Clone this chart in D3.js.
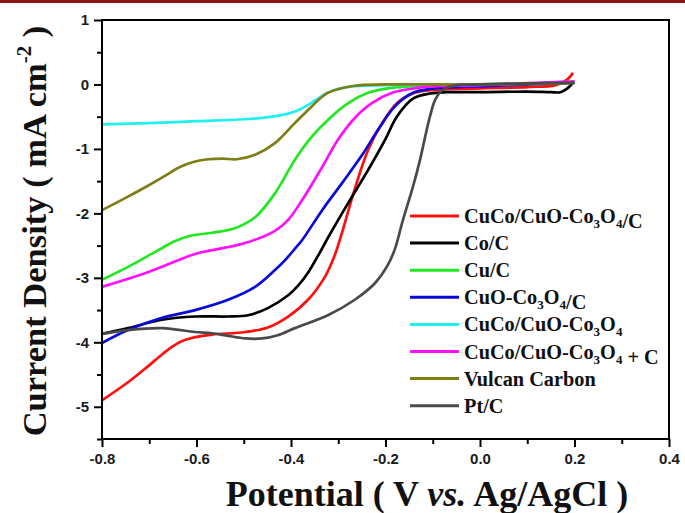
<!DOCTYPE html>
<html><head><meta charset="utf-8">
<script src="https://cdn.jsdelivr.net/npm/d3@7"></script>
<style>body{margin:0;background:#fff}svg{display:block}</style>
</head><body>
<svg id="c" width="685" height="513"></svg>
<script>
// ---- data ----
const redV = [-0.8,-0.745,-0.709,-0.673,-0.652,-0.63,-0.603,-0.567,-0.497,-0.449,-0.406,-0.364,-0.328,-0.307,-0.292,-0.265,-0.237,-0.207,-0.176,-0.142,-0.106,-0.05,0.0,0.1,0.16,0.185,0.197];
const redJ = [-4.9,-4.62,-4.41,-4.19,-4.07,-3.98,-3.92,-3.88,-3.84,-3.77,-3.6,-3.34,-2.98,-2.64,-2.3,-1.62,-1.02,-0.6,-0.29,-0.14,-0.09,-0.07,-0.06,-0.04,-0.01,0.08,0.18];
const blackV = [-0.8,-0.745,-0.673,-0.603,-0.533,-0.491,-0.449,-0.406,-0.385,-0.364,-0.343,-0.322,-0.3,-0.279,-0.237,-0.201,-0.176,-0.142,-0.106,-0.07,0.0,0.1,0.15,0.17,0.185,0.197];
const blackJ = [-3.87,-3.78,-3.65,-3.6,-3.6,-3.58,-3.47,-3.27,-3.12,-2.92,-2.66,-2.38,-2.1,-1.84,-1.33,-0.86,-0.5,-0.22,-0.14,-0.12,-0.12,-0.11,-0.12,-0.12,-0.06,0.03];
const greenV = [-0.8,-0.745,-0.681,-0.645,-0.615,-0.567,-0.519,-0.476,-0.434,-0.392,-0.356,-0.322,-0.279,-0.237,-0.195,-0.15,-0.1,0.0,0.2];
const greenJ = [-3.03,-2.83,-2.57,-2.43,-2.35,-2.3,-2.23,-2.06,-1.69,-1.17,-0.81,-0.55,-0.29,-0.13,-0.06,-0.03,-0.015,0.0,0.03];
const blueV = [-0.8,-0.745,-0.673,-0.603,-0.533,-0.476,-0.434,-0.413,-0.392,-0.377,-0.334,-0.292,-0.25,-0.212,-0.18,-0.142,-0.106,-0.05,0.0,0.2];
const blueJ = [-4.01,-3.81,-3.62,-3.5,-3.34,-3.14,-2.88,-2.73,-2.55,-2.42,-1.95,-1.53,-1.1,-0.66,-0.34,-0.13,-0.07,-0.04,-0.03,0.03];
const cyanV = [-0.8,-0.7,-0.6,-0.5,-0.44,-0.41,-0.385,-0.36,-0.335,-0.31,-0.27,-0.2,0.0,0.2];
const cyanJ = [-0.62,-0.6,-0.57,-0.54,-0.5,-0.46,-0.4,-0.3,-0.18,-0.09,-0.03,-0.01,0.0,0.03];
const magentaV = [-0.8,-0.709,-0.603,-0.567,-0.497,-0.434,-0.406,-0.377,-0.334,-0.301,-0.265,-0.229,-0.186,-0.14,-0.1,0.0,0.2];
const magentaJ = [-3.14,-2.93,-2.63,-2.57,-2.46,-2.27,-2.1,-1.8,-1.28,-0.86,-0.52,-0.29,-0.13,-0.06,-0.03,-0.01,0.05];
const oliveV = [-0.8,-0.745,-0.7,-0.665,-0.635,-0.605,-0.575,-0.545,-0.515,-0.476,-0.434,-0.392,-0.356,-0.322,-0.265,-0.2,0.0,0.2];
const oliveJ = [-1.95,-1.74,-1.56,-1.41,-1.28,-1.2,-1.16,-1.15,-1.16,-1.09,-0.91,-0.6,-0.34,-0.13,-0.02,0.0,0.0,0.02];
const grayV = [-0.8,-0.745,-0.673,-0.603,-0.567,-0.533,-0.497,-0.461,-0.428,-0.392,-0.322,-0.265,-0.222,-0.195,-0.18,-0.163,-0.142,-0.127,-0.116,-0.106,-0.095,-0.08,-0.057,0.0,0.2];
const grayJ = [-3.87,-3.81,-3.78,-3.84,-3.86,-3.9,-3.94,-3.94,-3.89,-3.78,-3.58,-3.34,-3.08,-2.8,-2.55,-2.1,-1.59,-1.17,-0.81,-0.5,-0.24,-0.09,-0.02,0.0,0.03];

const seriesNames = ["CuCo/CuO-Co3O4/C","Co/C","Cu/C","CuO-Co3O4/C","CuCo/CuO-Co3O4","CuCo/CuO-Co3O4 + C","Vulcan Carbon","Pt/C"];
const seriesColors = ["#ff1010","#000000","#22e822","#0a0ad8","#20f0f0","#ff10ff","#7e7e16","#4a4a4a"];
const seriesV = [redV,blackV,greenV,blueV,cyanV,magentaV,oliveV,grayV];
const seriesJ = [redJ,blackJ,greenJ,blueJ,cyanJ,magentaJ,oliveJ,grayJ];

const xMajor = [-0.8,-0.6,-0.4,-0.2,0.0,0.2,0.4];
const xMinor = [-0.7,-0.5,-0.3,-0.1,0.1,0.3];
const yMajor = [1,0,-1,-2,-3,-4,-5];
const yMinor = [0.5,-0.5,-1.5,-2.5,-3.5,-4.5,-5.5];

// ---- drawing ----
const svg = d3.select("#c");
const L=102,R=669,T=20,B=439;
const x = d3.scaleLinear().domain([-0.8,0.4]).range([L,R]);
const y = d3.scaleLinear().domain([-5.5,1]).range([B,T]);

svg.append("rect").attr("x",0).attr("y",0).attr("width",685).attr("height",3).attr("fill","#8e1515");

// curves
const line = d3.line().x(d=>x(d[0])).y(d=>y(d[1])).curve(d3.curveCatmullRom.alpha(0.5));
const plot = svg.append("g");
seriesV.forEach((vs,i)=>{
  const pts = vs.map((v,k)=>[v,seriesJ[i][k]]);
  plot.append("path").attr("d",line(pts)).attr("fill","none")
    .attr("stroke",seriesColors[i]).attr("stroke-width",2.7).attr("stroke-linejoin","round");
});

// frame
svg.append("rect").attr("x",L).attr("y",T).attr("width",R-L).attr("height",B-T)
  .attr("fill","none").attr("stroke","#000").attr("stroke-width",2);

// axes
const xAxis = d3.axisBottom(x).tickValues(xMajor).tickSize(8).tickPadding(6).tickFormat(d3.format(".1f"));
const gx = svg.append("g").attr("transform",`translate(0,${B})`).call(xAxis);
const gxm = svg.append("g").attr("transform",`translate(0,${B})`).call(d3.axisBottom(x).tickValues(xMinor).tickSize(5).tickFormat(""));
const yAxis = d3.axisLeft(y).tickValues(yMajor).tickSize(8).tickPadding(5).tickFormat(d3.format("d"));
const gy = svg.append("g").attr("transform",`translate(${L},0)`).call(yAxis);
const gym = svg.append("g").attr("transform",`translate(${L},0)`).call(d3.axisLeft(y).tickValues(yMinor).tickSize(5).tickFormat(""));
[gx,gxm,gy,gym].forEach(g=>{
  g.select(".domain").remove();
  g.selectAll("line").attr("stroke","#000").attr("stroke-width",2);
  g.selectAll("text").attr("font-family","'Liberation Sans',Arial,sans-serif")
    .attr("font-weight","bold").attr("font-size",15).attr("fill","#1a1a1a");
});
gy.selectAll("text").text(d=>String(d).replace("\u2212","-"));
gx.selectAll("text").text(d=>d3.format(".1f")(d).replace("\u2212","-"));

// axis titles
const serif = "'Liberation Serif','Times New Roman',serif";
const xt = svg.append("text").attr("x",427).attr("y",506).attr("text-anchor","middle")
  .attr("font-family",serif).attr("font-weight","bold").attr("font-size",36).attr("fill","#111");
xt.append("tspan").text("Potential ( V ");
xt.append("tspan").attr("font-style","italic").text("vs.");
xt.append("tspan").text(" Ag/AgCl )");

const yt = svg.append("text").attr("transform","translate(46,231) rotate(-90)").attr("text-anchor","middle")
  .attr("font-family",serif).attr("font-weight","bold").attr("font-size",34.5).attr("fill","#111");
yt.append("tspan").text("Current Density ( mA cm");
yt.append("tspan").attr("font-size",21).attr("dy",-15).text("-2");
yt.append("tspan").attr("dy",15).text(" )");

// legend
const lg = svg.append("g");
const rowY = i => 216 + i*27.1;
seriesNames.forEach((name,i)=>{
  lg.append("line").attr("x1",410).attr("x2",459).attr("y1",rowY(i)).attr("y2",rowY(i))
    .attr("stroke",seriesColors[i]).attr("stroke-width",3);
  const t = lg.append("text").attr("x",464).attr("y",rowY(i)+7)
    .attr("font-family",serif).attr("font-weight","bold").attr("font-size",20.3).attr("fill","#111");
  const parts = name.split(/(Co3O4)/);
  parts.forEach(p=>{
    if(p==="Co3O4"){
      t.append("tspan").text("Co");
      t.append("tspan").attr("font-size",13).attr("dy",5).text("3");
      t.append("tspan").attr("dy",-5).text("O");
      t.append("tspan").attr("font-size",13).attr("dy",5).text("4");
      t.append("tspan").attr("dy",-5).text("");
    } else if(p.length){
      t.append("tspan").text(p);
    }
  });
});
</script>
</body></html>
